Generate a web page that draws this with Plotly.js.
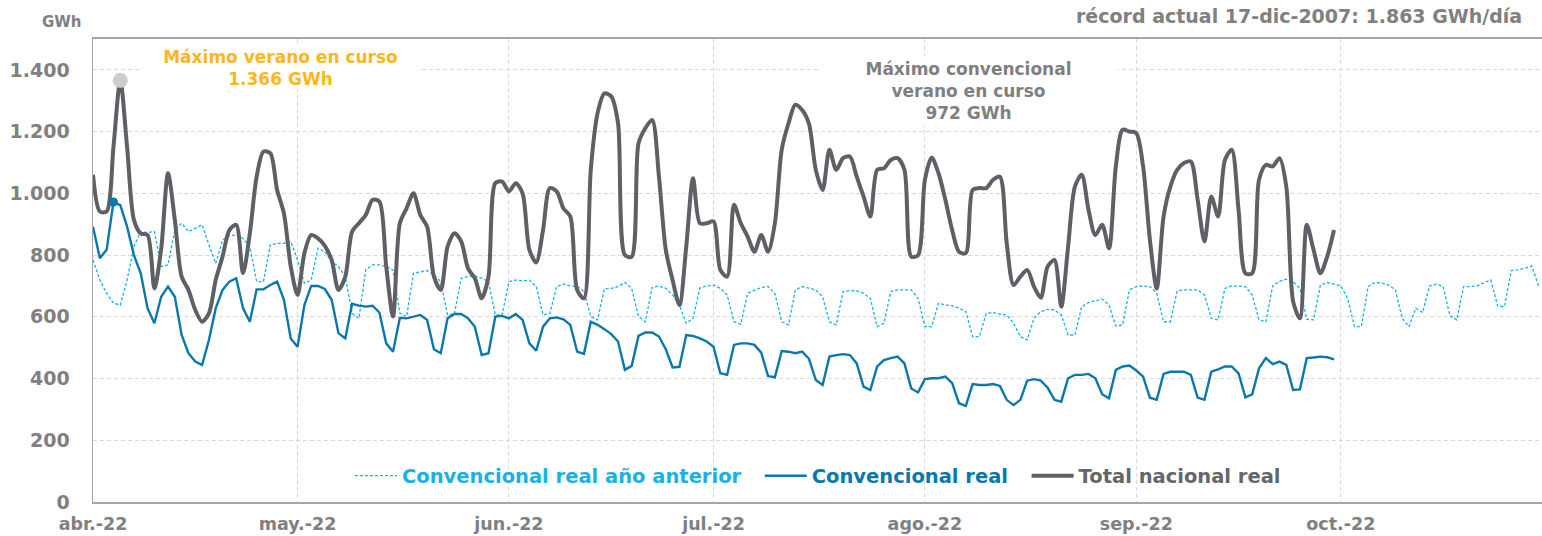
<!DOCTYPE html>
<html>
<head>
<meta charset="utf-8">
<script src="https://cdn.plot.ly/plotly-3.0.1.min.js"></script>
<style>html,body{margin:0;padding:0;background:#fff;}#chart{width:1542px;height:536px;}</style>
</head>
<body>
<div id="chart"></div>
<script>
// ---- data (GWh per day), daily from 1-Apr-2022 ----
const startDate = '2022-04-01';

const totalNacionalReal = [
1060,941,941,1150,1366,1150,914,870,865,692,820,1065,914,730,687,622,584,611,720,795,
881,898,741,870,1054,1135,1130,1011,935,763,671,806,865,854,830,784,687,730,876,903,
930,979,973,763,601,903,952,1000,930,892,730,687,827,871,844,757,725,660,730,1033,
1038,1006,1033,1000,817,776,881,1017,1006,951,925,687,660,1076,1260,1324,1314,1227,800,795,
1162,1211,1238,1054,817,719,638,827,1049,903,903,909,752,730,963,903,860,811,865,811,
903,1141,1227,1287,1270,1225,1076,1011,1141,1076,1114,1119,1054,990,925,1076,1081,1108,1114,1076,
795,800,1044,1116,1065,979,881,811,806,1011,1017,1017,1044,1054,838,703,730,752,698,662,
763,784,633,827,1022,1060,946,865,898,822,1087,1206,1200,1195,1087,849,692,925,1022,1076,
1098,1103,979,844,990,925,1108,1141,946,741,741,1044,1092,1087,1114,1022,650,595,898,817,
741,795,881
];

const convencionalReal = [
892,790,817,972,962,892,800,741,628,579,665,698,665,541,482,455,444,525,628,687,
714,725,628,584,689,689,703,714,655,530,503,638,700,700,690,655,547,530,642,636,
633,636,614,514,487,597,595,601,606,590,495,482,595,609,609,595,568,476,482,601,
603,595,609,590,514,490,568,595,598,592,574,487,480,584,574,560,544,520,428,441,
538,549,549,536,495,436,438,541,538,530,520,503,417,412,509,514,514,509,484,408,
404,489,487,482,487,464,395,379,471,476,479,476,449,374,363,439,460,466,471,449,
368,355,398,401,401,406,385,320,311,382,379,379,382,376,331,314,331,393,398,393,
370,331,325,401,412,412,415,401,349,336,428,439,442,426,406,338,331,415,422,422,
422,412,338,331,422,430,439,439,417,339,349,433,466,447,455,444,363,365,466,468,
471,469,462
];

const convencionalAnoAnterior = [
784,719,676,644,638,719,827,876,873,876,763,768,881,903,876,887,898,833,773,849,
862,865,854,827,714,714,833,838,838,844,784,709,719,822,811,779,763,730,611,595,
752,768,768,763,752,611,601,741,746,750,736,714,606,609,725,730,732,725,714,606,
606,714,719,717,719,698,606,611,698,706,700,698,682,601,590,691,692,698,711,692,
601,584,695,700,692,671,638,579,595,693,700,703,692,671,584,576,676,685,695,698,
676,584,574,687,698,693,687,665,584,574,682,685,684,676,660,568,579,682,687,687,
687,660,568,568,644,638,636,628,617,536,536,611,614,609,606,579,536,525,595,617,
624,622,606,541,541,633,646,652,657,638,570,574,687,698,700,698,676,584,584,684,
687,687,687,671,595,590,692,700,700,698,671,590,584,700,715,722,714,692,592,590,
703,711,706,700,660,568,568,698,711,709,703,687,595,568,628,614,700,706,698,603,
590,698,698,700,711,719,635,633,750,752,757,765,700
];

const monthTicks = ['2022-04-01','2022-05-01','2022-06-01','2022-07-01','2022-08-01','2022-09-01','2022-10-01'];
const monthLabels = ['abr.-22','may.-22','jun.-22','jul.-22','ago.-22','sep.-22','oct.-22'];

const seriesNames = ['Convencional real año anterior','Convencional real','Total nacional real'];

// ---- helpers ----
function dates(n){
  const out=[]; const d0=new Date(startDate+'T00:00:00Z');
  for(let i=0;i<n;i++){const d=new Date(d0.getTime()+i*86400000);out.push(d.toISOString().slice(0,10));}
  return out;
}
const C_GRAY='#5f6065', C_BLUE='#0a78ab', C_CYAN='#19b1e6';
const FONT='DejaVu Sans';
const PAD='\u00a0\u00a0';

const xTot=dates(totalNacionalReal.length);
const xConv=dates(convencionalReal.length);
const xPrev=dates(convencionalAnoAnterior.length);

const iMaxTot=totalNacionalReal.indexOf(Math.max(...totalNacionalReal));
const iMaxConv=convencionalReal.indexOf(Math.max(...convencionalReal));

const traces=[
 {x:xPrev,y:convencionalAnoAnterior,type:'scatter',mode:'lines',
  name:'<span style="color:'+C_CYAN+'">'+seriesNames[0]+PAD+'</span>',
  line:{color:C_CYAN,width:1.3,dash:'3px,2px'}},
 {x:xConv,y:convencionalReal,type:'scatter',mode:'lines',
  name:'<span style="color:'+C_BLUE+'">'+seriesNames[1]+PAD+'</span>',
  line:{color:C_BLUE,width:2.4}},
 {x:xTot,y:totalNacionalReal,type:'scatter',mode:'lines',
  name:'<span style="color:#65666a">'+seriesNames[2]+'</span>',
  line:{color:C_GRAY,width:4,shape:'spline',smoothing:0.8}},
 {x:[xTot[iMaxTot]],y:[totalNacionalReal[iMaxTot]],type:'scatter',mode:'markers',
  showlegend:false,marker:{color:'#cdcdcd',size:15}},
 {x:[xConv[iMaxConv]],y:[convencionalReal[iMaxConv]],type:'scatter',mode:'markers',
  showlegend:false,marker:{color:C_BLUE,size:9}}
];

const W=1542,H=536,L=93,R=0,T=39,B=34;
const pw=W-L-R, ph=H-T-B;
const px=x=>(x-L)/pw, py=y=>(H-B-y)/ph;

const layout={
 width:W,height:H,
 margin:{l:L,r:R,t:T,b:B,pad:0},
 paper_bgcolor:'#fff',plot_bgcolor:'#fff',
 separators:',.',
 showlegend:true,
 legend:{orientation:'h',x:px(818),xanchor:'center',y:py(476),yanchor:'middle',itemwidth:42,
  bgcolor:'rgba(0,0,0,0)',font:{family:FONT,size:19.5,weight:'bold'},traceorder:'normal'},
 xaxis:{type:'date',range:['2022-04-01','2022-10-30 12:00'],
  tickvals:monthTicks,ticktext:monthLabels,
  showgrid:true,gridcolor:'#d9d9d9',griddash:'4px,3px',gridwidth:1,
  showline:true,linecolor:'#a6a6a6',linewidth:2,mirror:true,
  ticks:'',ticklabelstandoff:5,
  tickfont:{family:FONT,size:17.5,color:'#808080',weight:'bold'},zeroline:false},
 yaxis:{range:[0,1500],tickvals:[0,200,400,600,800,1000,1200,1400],
  separatethousands:true,tickformat:',d',
  showgrid:true,gridcolor:'#d9d9d9',griddash:'4px,3px',gridwidth:1,
  showline:true,linecolor:'#a6a6a6',linewidth:1.5,
  ticks:'',ticklabelstandoff:18,zeroline:false,
  tickfont:{family:FONT,size:19,color:'#808080',weight:'bold'}},
 annotations:[
  {xref:'paper',yref:'paper',x:px(62),y:py(22),text:'GWh',showarrow:false,
   xanchor:'center',yanchor:'middle',font:{family:FONT,size:15,color:'#808080',weight:'bold'}},
  {xref:'paper',yref:'paper',x:px(1524),y:py(16),text:'récord actual 17-dic-2007: 1.863 GWh/día',showarrow:false,
   xanchor:'right',yanchor:'middle',font:{family:FONT,size:19,color:'#808080',weight:'bold'}},
  {xref:'paper',yref:'paper',x:px(280),y:py(68),text:'Máximo verano en curso<br>1.366 GWh',showarrow:false,
   xanchor:'center',yanchor:'middle',width:275,bgcolor:'#fff',borderpad:0,
   font:{family:FONT,size:17,color:'#ffb61b',weight:'bold'}},
  {xref:'paper',yref:'paper',x:px(968),y:py(91),text:'Máximo convencional<br>verano en curso<br>972 GWh',showarrow:false,
   xanchor:'center',yanchor:'middle',width:293,bgcolor:'#fff',borderpad:2,
   font:{family:FONT,size:17,color:'#7f7f7f',weight:'bold'}}
 ]
};

Plotly.newPlot('chart',traces,layout,{staticPlot:true,displayModeBar:false});
</script>
</body>
</html>
